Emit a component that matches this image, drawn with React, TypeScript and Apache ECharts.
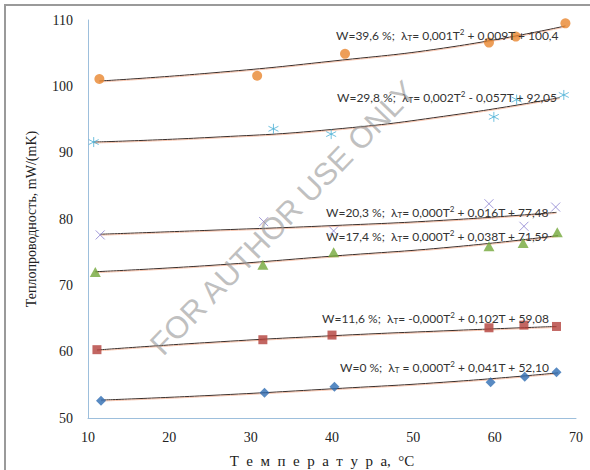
import React, { useEffect, useRef } from "react";
import * as echarts from "echarts";

// ---- data ----
const xTicks = [10, 20, 30, 40, 50, 60, 70];
const yTicks = [50, 60, 70, 80, 90, 100, 110];

const w0T = [11.6, 31.7, 40.3, 59.5, 63.7, 67.6];
const w0V = [52.6, 53.8, 54.7, 55.4, 56.2, 56.9];
const w116T = [11.1, 31.5, 40.0, 59.3, 63.6, 67.6];
const w116V = [60.3, 61.8, 62.5, 63.6, 64.0, 63.8];
const w174T = [10.9, 31.5, 40.2, 59.3, 63.5, 67.7];
const w174V = [72.0, 73.1, 75.0, 75.9, 76.4, 78.0];
const w203T = [11.5, 31.6, 40.2, 59.3, 63.6, 67.5];
const w203V = [77.6, 79.6, 78.2, 82.3, 78.9, 81.8];
const w298T = [10.7, 32.8, 39.9, 59.9, 62.7, 68.5];
const w298V = [91.6, 93.6, 92.8, 95.4, 98.0, 98.7];
const w396T = [11.4, 30.8, 41.6, 59.3, 62.6, 68.7];
const w396V = [101.1, 101.6, 104.9, 106.6, 107.5, 109.5];

// trend lines
const tr0T = [11.6, 25, 40, 55, 67.8];
const tr0V = [52.7, 53.4, 54.4, 55.5, 56.8];
const tr116T = [11.1, 25, 40, 55, 67.6];
const tr116V = [60.25, 61.4, 62.4, 63.2, 63.8];
const tr174T = [10.9, 25, 40, 55, 67.8];
const tr174V = [72.05, 73.0, 74.4, 75.8, 77.5];
const tr203T = [11.5, 25, 40, 55, 67.6];
const tr203V = [77.7, 78.3, 79.0, 79.9, 81.0];
const tr298T = [10.7, 25, 40, 55, 68.0];
const tr298V = [91.6, 92.3, 93.5, 95.7, 98.3];
const tr396T = [11.4, 25, 40, 55, 68.7];
const tr396V = [100.8, 102.0, 103.8, 106.0, 109.1];

const labels = [
  { w: "W=39,6 %;", eq: "= 0,001T{sup|2} + 0,009T + 100,4", x: 336, y: 35 },
  { w: "W=29,8 %;", eq: "= 0,002T{sup|2} - 0,057T + 92,05", x: 337, y: 97 },
  { w: "W=20,3 %;", eq: "= 0,000T{sup|2} + 0,016T + 77,48", x: 326, y: 212 },
  { w: "W=17,4 %;", eq: "= 0,000T{sup|2} + 0,038T + 71,59", x: 326, y: 236 },
  { w: "W=11,6 %;", eq: "= -0,000T{sup|2} + 0,102T + 59,08", x: 322, y: 318 },
  { w: "W=0 %;", eq: " = 0,000T{sup|2} + 0,041T + 52,10", x: 340, y: 367 },
];

const zip = (a: number[], b: number[]) => a.map((v, i) => [v, b[i]]);

const trendStyle = {
  color: "#3a2f2b",
  width: 1,
  shadowColor: "rgba(240,150,110,0.55)",
  shadowOffsetY: 1,
  shadowBlur: 0,
};

const trend = (t: number[], v: number[]) => ({
  type: "line",
  data: zip(t, v),
  smooth: true,
  showSymbol: false,
  symbol: "none",
  lineStyle: trendStyle,
  z: 2,
  silent: true,
});

const starPath = "path://M5,0L5,10M0.7,2.5L9.3,7.5M0.7,7.5L9.3,2.5";
const crossPath = "path://M0,0L10,10M10,0L0,10";

export default function App() {
  const ref = useRef<HTMLDivElement>(null);
  useEffect(() => {
    const chart = echarts.init(ref.current!, null, { renderer: "svg" });
    const serif = "'Liberation Serif', 'DejaVu Serif', serif";
    const sans = "Lato, 'Liberation Sans', sans-serif";
    chart.setOption({
      animation: false,
      backgroundColor: "#ffffff",
      grid: { left: 88, right: 14, top: 20, bottom: 52, containLabel: false, outerBoundsMode: "none" },
      xAxis: {
        type: "value",
        min: xTicks[0],
        max: xTicks[xTicks.length - 1],
        interval: 10,
        axisLine: { show: true, lineStyle: { color: "#9dbfdc", width: 1 } },
        axisTick: { show: false },
        splitLine: { show: false },
        axisLabel: { fontFamily: serif, fontSize: 14, color: "#222", margin: 12 },
        name: "Т\u2002е\u2002м\u2002п\u2002е\u2002р\u2002а\u2002т\u2002у\u2002р\u2002а,\u2002°С",
        nameLocation: "middle",
        nameGap: 35,
        nameTextStyle: { fontFamily: serif, fontSize: 15, color: "#222", padding: [0, 20, 0, 0] },
      },
      yAxis: {
        type: "value",
        min: yTicks[0],
        max: yTicks[yTicks.length - 1],
        interval: 10,
        axisLine: { show: true, lineStyle: { color: "#9dbfdc", width: 1 } },
        axisTick: { show: false },
        splitLine: { show: false },
        axisLabel: { fontFamily: serif, fontSize: 14, color: "#222", margin: 15 },
        name: "Теплопроводность, mW/(mK)",
        nameLocation: "middle",
        nameGap: 50,
        nameTextStyle: { fontFamily: serif, fontSize: 14, color: "#222" },
      },
      series: [
        trend(tr0T, tr0V),
        trend(tr116T, tr116V),
        trend(tr174T, tr174V),
        trend(tr203T, tr203V),
        trend(tr298T, tr298V),
        trend(tr396T, tr396V),
        {
          type: "scatter", data: zip(w0T, w0V), symbol: "diamond", symbolSize: [10, 10],
          itemStyle: { color: "#2e6db3" }, z: 3,
        },
        {
          type: "scatter", data: zip(w116T, w116V), symbol: "rect", symbolSize: 9,
          itemStyle: { color: "#b3403b" }, z: 3,
        },
        {
          type: "scatter", data: zip(w174T, w174V), symbol: "triangle", symbolSize: [11, 10],
          itemStyle: { color: "#73a83a" }, z: 3,
        },
        {
          type: "scatter", data: zip(w203T, w203V), symbol: crossPath, symbolSize: 9,
          itemStyle: { color: "transparent", borderColor: "#8a80d0", borderWidth: 1 }, z: 3,
        },
        {
          type: "scatter", data: zip(w298T, w298V), symbol: starPath, symbolSize: 10,
          itemStyle: { color: "transparent", borderColor: "#4bb0d6", borderWidth: 1 }, z: 3,
        },
        {
          type: "scatter", data: zip(w396T, w396V), symbol: "circle", symbolSize: 10,
          itemStyle: { color: "#e8862e" }, z: 3,
        },
      ],
      graphic: [
        {
          type: "rect",
          shape: { x: 5, y: 5, width: 800, height: 800 },
          style: { fill: "none", stroke: "#9a9a9a", lineWidth: 2 },
          silent: true,
        },
        ...labels.map((l) => ({
          type: "text",
          x: l.x,
          y: l.y,
          z: 10,
          style: {
            text: `${l.w}  λ{sub|T}${l.eq}`,
            fontFamily: sans,
            fontSize: 12,
            fill: "#333",
            verticalAlign: "middle",
            rich: {
              sub: { fontSize: 8, fontFamily: sans, fill: "#333", verticalAlign: "bottom", padding: [6, 0, 0, 0] },
              sup: { fontSize: 8, fontFamily: sans, fill: "#333", verticalAlign: "top", padding: [0, 0, 6, 0] },
            },
          },
        })),
        {
          type: "text",
          x: 283,
          y: 218,
          rotation: (46 * Math.PI) / 180,
          z: 20,
          silent: true,
          style: {
            text: "FOR AUTHOR USE ONLY",
            fontFamily: "'Liberation Sans', Arial, sans-serif",
            fontSize: 31,
            fill: "rgba(150,150,150,0.6)",
            align: "center",
            verticalAlign: "middle",
          },
        },
      ],
    });
    return () => chart.dispose();
  }, []);
  return (
    <div
      ref={ref}
      style={{ position: "fixed", left: 0, top: 0, width: 590, height: 470, background: "#fff" }}
    />
  );
}
